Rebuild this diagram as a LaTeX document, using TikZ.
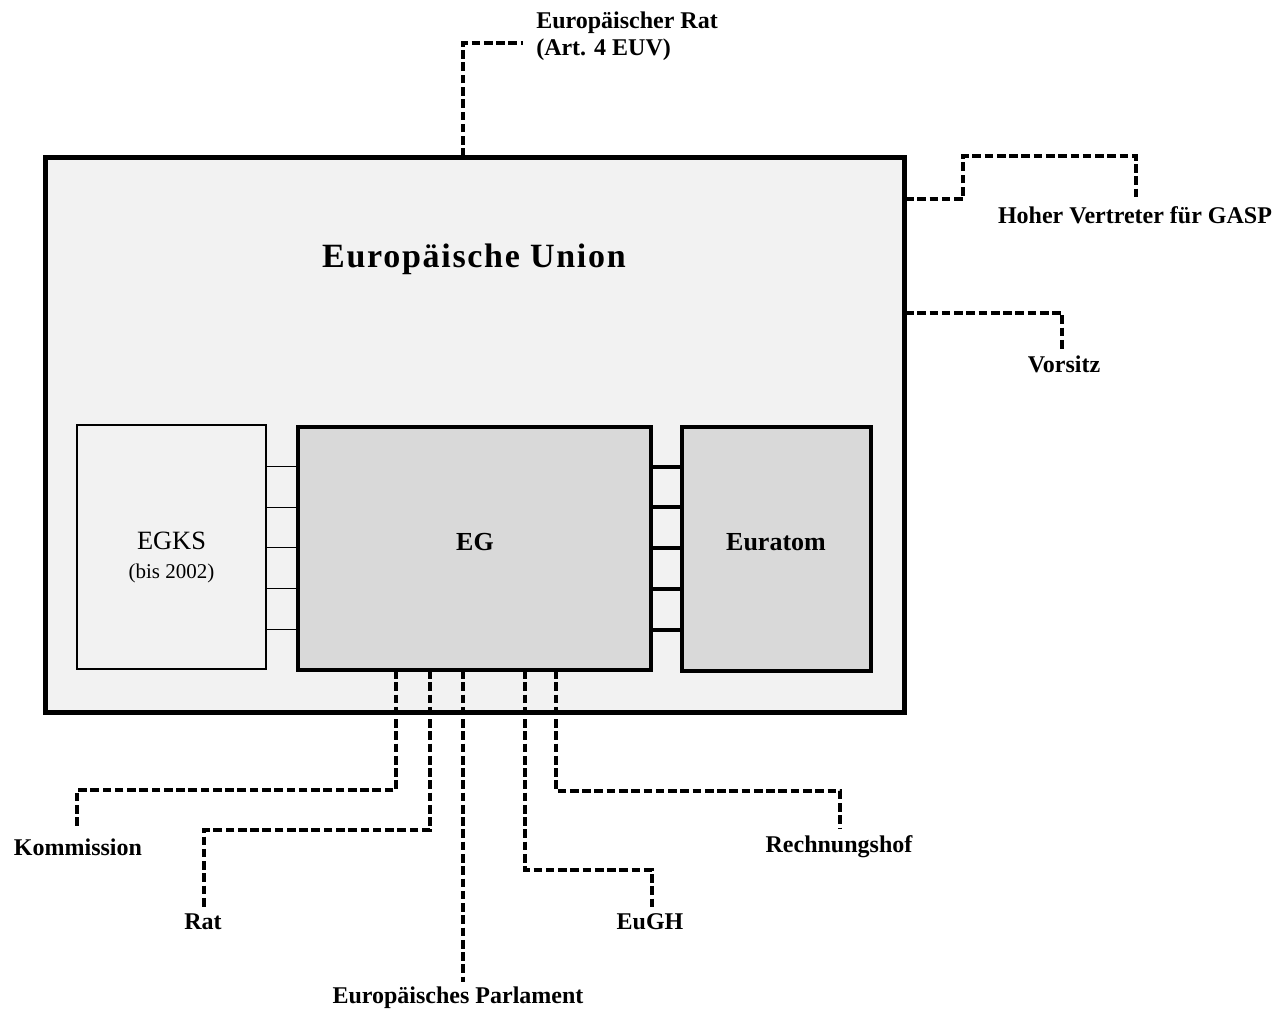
\documentclass[tikz,border=0pt]{standalone}
\usepackage{fontspec}
\setmainfont{Liberation Serif}
\usetikzlibrary{calc}

\definecolor{eufill}{HTML}{F2F2F2}
\definecolor{egfill}{HTML}{D9D9D9}

\tikzset{
	orgbox/.style={draw, line width=#1, inner sep=0pt, outer sep=0pt},
	lab/.style={font=\fontsize{18}{20.25}\selectfont\bfseries, inner sep=0pt},
	dashlink/.style={line width=2.4pt, dash pattern=on 6.5pt off 2.7pt},
}

\begin{document}
\begin{tikzpicture}[x=0.75pt, y=-0.75pt]
			%%%%% START %%%%%
			\useasboundingbox (0,0) rectangle (1282,1008);
			
			\node[orgbox=3.75pt, fill=eufill, minimum width=644.6pt, minimum height=416.25pt] (eu) at (475.25,434.5) {};
			\node[inner sep=0pt, font=\fontsize{25.5}{25.5}\selectfont\bfseries\addfontfeature{LetterSpace=5}] (eutitle) at (474,259) {Europäische Union};
			
			\node[orgbox=1.1pt, fill=eufill, minimum width=141.75pt, minimum height=183pt] (egks) at (171.5,547) {};
			\node[orgbox=3pt, fill=egfill, minimum width=264.75pt, minimum height=182.25pt] (eg) at (474.5,548.5) {};
			\node[orgbox=3pt, fill=egfill, minimum width=141.75pt, minimum height=183pt] (euratom) at (776.5,549) {};
			
			\node[inner sep=0pt, font=\fontsize{19.8}{19.8}\selectfont] (egkstext) at (171.5,541) {EGKS};
			\node[inner sep=0pt, font=\fontsize{15.75}{15.75}\selectfont] (egksyear) at (171.5,573) {(bis 2002)};
			\node[inner sep=0pt, font=\fontsize{19.5}{19.5}\selectfont\bfseries] (egtext) at (475,542.5) {EG};
			\node[inner sep=0pt, font=\fontsize{19.5}{19.5}\selectfont\bfseries] (euratomtext) at (776,542.5) {Euratom};
			
			% Verbindungen zwischen den Gemeinschaften
			\foreach \y in {466,507,547,588,629}
				\draw[line width=0.75pt] (egks.east |- 0,\y) -- (eg.west |- 0,\y);
			\foreach \y in {467,507,548,589,630}
				\draw[line width=3pt] (eg.east |- 0,\y) -- (euratom.west |- 0,\y);
			
			% Organe
			\node[lab, anchor=west, align=left] (erat) at (536,36.5) {Europäischer Rat\\(Art. 4 EUV)};
			\node[lab] (hv) at (1135,215) {Hoher Vertreter für GASP};
			\node[lab] (vorsitz) at (1064,364) {Vorsitz};
			\node[lab] (kommission) at (78,847) {Kommission};
			\node[lab] (rat) at (203,922) {Rat};
			\node[lab] (ep) at (458,998) {Europäisches Parlament};
			\node[lab] (eugh) at (650,922) {EuGH};
			\node[lab] (rh) at (839,847) {Rechnungshof};
			
			\coordinate (eratend) at (523,43);
			\coordinate (hvend) at (1136,197);
			\coordinate (vorend) at (1062,350);
			\coordinate (komend) at (77,826);
			\coordinate (ratend) at (204,907);
			\coordinate (epend) at (463,982);
			\coordinate (eughend) at (652,907);
			\coordinate (rhend) at (840,828);
			
			\draw[dashlink] (eu.north -| 463,0) |- (eratend);
			\draw[dashlink] (eu.east |- 0,199) -| (963,156) -| (hvend);
			\draw[dashlink] (eu.east |- 0,313) -| (vorend);
			
			\draw[dashlink] (eg.south -| 396,0) -- (396,790) -| (komend);
			\draw[dashlink] (eg.south -| 430,0) -- (430,830) -| (ratend);
			\draw[dashlink] (eg.south -| 463,0) -- (epend);
			\draw[dashlink] (eg.south -| 525,0) -- (525,870) -| (eughend);
			\draw[dashlink] (eg.south -| 556,0) -- (556,791) -| (rhend);
			
			%%%%% END %%%%%
\end{tikzpicture}
\end{document}
